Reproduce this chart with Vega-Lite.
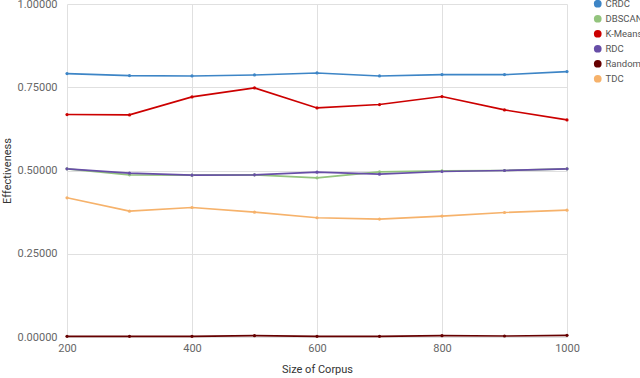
{
  "$schema": "https://vega.github.io/schema/vega-lite/v6.json",
  "width": 500,
  "height": 333,
  "autosize": "none",
  "padding": {"left": 67, "top": 4, "right": 73, "bottom": 41},
  "background": "white",
  "config": {
    "font": "Roboto",
    "view": {"stroke": null},
    "axis": {"labelColor": "#666666", "labelFontSize": 11, "titleColor": "#333333", "titleFontSize": 11, "titleFontWeight": "normal", "gridColor": "#e0e0e0", "domain": false, "ticks": false}
  },
  "data": {
    "values": [
      {"size": 200, "method": "CRDC", "value": 0.791},
      {"size": 300, "method": "CRDC", "value": 0.785},
      {"size": 400, "method": "CRDC", "value": 0.784},
      {"size": 500, "method": "CRDC", "value": 0.787},
      {"size": 600, "method": "CRDC", "value": 0.793},
      {"size": 700, "method": "CRDC", "value": 0.784},
      {"size": 800, "method": "CRDC", "value": 0.788},
      {"size": 900, "method": "CRDC", "value": 0.788},
      {"size": 1000, "method": "CRDC", "value": 0.797},
      {"size": 200, "method": "DBSCAN", "value": 0.505},
      {"size": 300, "method": "DBSCAN", "value": 0.487},
      {"size": 400, "method": "DBSCAN", "value": 0.486},
      {"size": 500, "method": "DBSCAN", "value": 0.487},
      {"size": 600, "method": "DBSCAN", "value": 0.478},
      {"size": 700, "method": "DBSCAN", "value": 0.496},
      {"size": 800, "method": "DBSCAN", "value": 0.499},
      {"size": 900, "method": "DBSCAN", "value": 0.500},
      {"size": 1000, "method": "DBSCAN", "value": 0.505},
      {"size": 200, "method": "K-Means", "value": 0.668},
      {"size": 300, "method": "K-Means", "value": 0.667},
      {"size": 400, "method": "K-Means", "value": 0.721},
      {"size": 500, "method": "K-Means", "value": 0.748},
      {"size": 600, "method": "K-Means", "value": 0.688},
      {"size": 700, "method": "K-Means", "value": 0.698},
      {"size": 800, "method": "K-Means", "value": 0.722},
      {"size": 900, "method": "K-Means", "value": 0.682},
      {"size": 1000, "method": "K-Means", "value": 0.652},
      {"size": 200, "method": "RDC", "value": 0.505},
      {"size": 300, "method": "RDC", "value": 0.492},
      {"size": 400, "method": "RDC", "value": 0.486},
      {"size": 500, "method": "RDC", "value": 0.487},
      {"size": 600, "method": "RDC", "value": 0.495},
      {"size": 700, "method": "RDC", "value": 0.489},
      {"size": 800, "method": "RDC", "value": 0.497},
      {"size": 900, "method": "RDC", "value": 0.500},
      {"size": 1000, "method": "RDC", "value": 0.505},
      {"size": 200, "method": "Random", "value": 0.002},
      {"size": 300, "method": "Random", "value": 0.002},
      {"size": 400, "method": "Random", "value": 0.002},
      {"size": 500, "method": "Random", "value": 0.004},
      {"size": 600, "method": "Random", "value": 0.002},
      {"size": 700, "method": "Random", "value": 0.002},
      {"size": 800, "method": "Random", "value": 0.004},
      {"size": 900, "method": "Random", "value": 0.003},
      {"size": 1000, "method": "Random", "value": 0.005},
      {"size": 200, "method": "TDC", "value": 0.418},
      {"size": 300, "method": "TDC", "value": 0.378},
      {"size": 400, "method": "TDC", "value": 0.389},
      {"size": 500, "method": "TDC", "value": 0.375},
      {"size": 600, "method": "TDC", "value": 0.358},
      {"size": 700, "method": "TDC", "value": 0.354},
      {"size": 800, "method": "TDC", "value": 0.363},
      {"size": 900, "method": "TDC", "value": 0.374},
      {"size": 1000, "method": "TDC", "value": 0.381}
    ]
  },
  "mark": {"type": "line", "strokeWidth": 1.6, "point": {"filled": true, "size": 10}},
  "encoding": {
    "x": {"field": "size", "type": "quantitative", "title": "Size of Corpus", "scale": {"domain": [200, 1000], "nice": false, "zero": false}, "axis": {"values": [200, 400, 600, 800, 1000], "format": "d", "labelPadding": 5, "titlePadding": 10, "labelFlush": false}},
    "y": {"field": "value", "type": "quantitative", "title": "Effectiveness", "scale": {"domain": [0, 1], "nice": false}, "axis": {"values": [0, 0.25, 0.5, 0.75, 1], "format": ".5f", "labelPadding": 10, "titlePadding": 5}},
    "color": {
      "field": "method", "type": "nominal",
      "scale": {"domain": ["CRDC", "DBSCAN", "K-Means", "RDC", "Random", "TDC"], "range": ["#3d85c6", "#93c47d", "#cc0000", "#674ea7", "#660000", "#f6b26b"]},
      "legend": {"title": null, "orient": "none", "legendX": 526, "legendY": -5, "symbolType": "circle", "symbolSize": 60, "symbolStrokeWidth": 0, "labelFontSize": 9.5, "labelColor": "#555555", "rowPadding": 4, "labelOffset": 3, "labelLimit": 200, "padding": 0}
    }
  }
}
